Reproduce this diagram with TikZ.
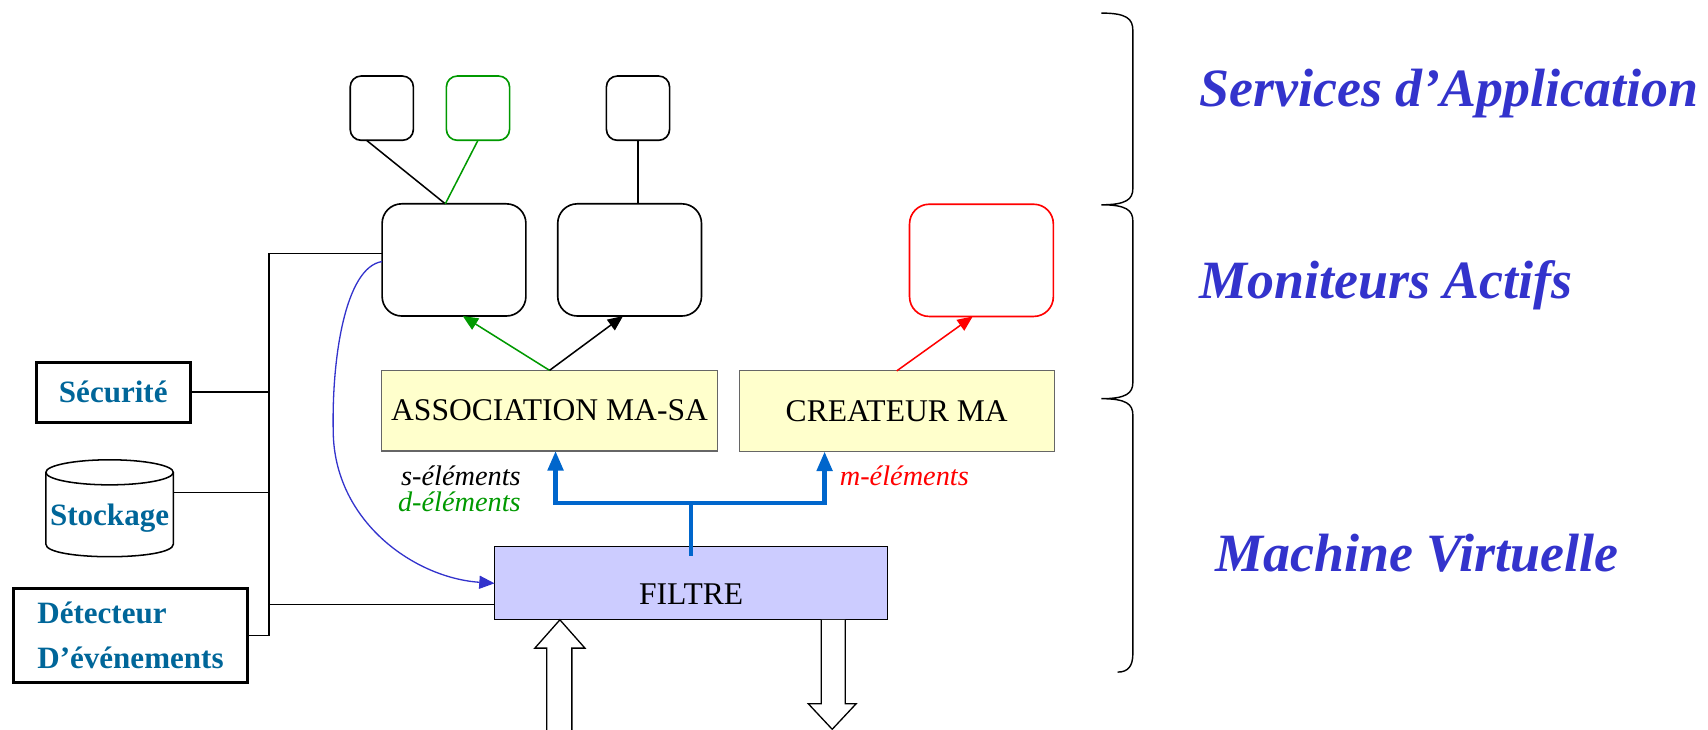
\documentclass[tikz,border=0pt]{standalone}
\usepackage{fontspec}
\setmainfont{Liberation Serif}
\usepackage{xcolor}
\usetikzlibrary{arrows.meta,positioning,calc}
\definecolor{titleblue}{RGB}{51,51,204}
\definecolor{labteal}{RGB}{0,102,153}
\definecolor{flowblue}{RGB}{0,102,204}
\definecolor{okgreen}{RGB}{0,153,0}
\definecolor{boxyellow}{RGB}{255,255,204}
\definecolor{filtreblue}{RGB}{204,204,255}

\begin{document}
\begin{tikzpicture}[x=1pt,y=-1pt,>={Triangle[length=14pt,width=12pt]},
  every node/.style={inner sep=0pt,outer sep=0pt},
  svc/.style={draw,line width=1.5pt,rounded corners=10pt,minimum width=58pt,minimum height=59pt},
  mon/.style={draw,line width=1.5pt,rounded corners=18pt,minimum width=132pt,minimum height=103pt},
  layer/.style={draw=black!60,line width=1pt,fill=boxyellow,minimum height=74pt,font=\fontsize{29}{34}\selectfont},
  tool/.style={draw,line width=2.8pt,font=\fontsize{28.5}{41.5}\selectfont\bfseries,text=labteal},
  side/.style={font=\fontsize{49.5}{56}\selectfont\bfseries\itshape,text=titleblue,anchor=base west},
  elem/.style={font=\fontsize{26}{30}\selectfont\itshape},
  link/.style={line width=1.4pt},
  flow/.style={line width=4pt,flowblue},
  hollow/.style={line width=1.2pt,fill=white}]
  \useasboundingbox (0,0) rectangle (1568,670);

  \node[svc] (sa1) at (350.5,99.3) {};
  \node[svc,draw=okgreen] (sa2) at (438.8,99.3) {};
  \node[svc] (sa3) at (585.7,99.3) {};
  \node[mon] (ma1) at (416.8,238.6) {};
  \node[mon] (ma2) at (578,238.6) {};
  \node[mon,draw=red] (ma3) at (901,239) {};
  \node[layer,minimum width=309pt] (assoc) at (504.5,377) {ASSOCIATION MA-SA};
  \node[layer,minimum width=289pt] (createur) at (823.2,377.5) {CREATEUR MA};
  \node[draw,line width=1pt,fill=filtreblue,minimum width=361pt,minimum height=67pt,
    text height=38pt,text depth=0pt,font=\fontsize{29}{34}\selectfont] (filtre) at (634.5,535.5) {FILTRE};

  \node[tool,minimum width=141pt,minimum height=55pt] (secu) at (104,360) {Sécurité};
  \node[minimum width=117pt,minimum height=89pt,text height=31pt,text depth=0pt,
    font=\fontsize{28.5}{34}\selectfont\bfseries,text=labteal] (stock) at (100.6,466.6) {Stockage};
  \node[tool,minimum width=214pt,minimum height=86pt,align=left] (detect) at (119.8,583.2) {Détecteur\\D’événements};
  \draw[link] ([yshift=-11.5pt]stock.north) ellipse [x radius=58.5,y radius=11.5];
  \draw[link] ([yshift=-11.5pt]stock.north west) -- ([yshift=11.5pt]stock.south west)
    .. controls +(0,15.3) and +(0,15.3) .. ([yshift=11.5pt]stock.south east) -- ([yshift=-11.5pt]stock.north east);

  \draw[link] ([xshift=-14pt]sa1.south) -- ([xshift=-8pt]ma1.north);
  \draw[link,okgreen] (sa2.south) -- ([xshift=-8pt]ma1.north);
  \draw[link] (sa3.south) -- (sa3.south |- ma2.north);
  \draw[link,okgreen,->] (assoc.north) -- ([xshift=8pt]ma1.south);
  \draw[link,->] (assoc.north) -- ([xshift=-6pt]ma2.south);
  \draw[link,red,->] (createur.north) -- ([xshift=-8pt]ma3.south);

  \coordinate (fork) at (634,462);
  \coordinate (fl) at (510,462);
  \coordinate (fr) at (757,462);
  \draw[flow] ([yshift=-8pt]filtre.north) -- (filtre.north |- fork);
  \draw[flow,{Triangle[length=18pt,width=14pt]}-{Triangle[length=18pt,width=14pt]}]
    (assoc.south -| fl) -- (fl) -- (fr) -- (createur.south -| fr);
  \node[elem,anchor=east] (selem) at (478,437) {s-éléments};
  \node[elem,anchor=east,text=okgreen] (delem) at (478,461) {d-éléments};
  \node[elem,anchor=west,text=red] (melem) at (771,437) {m-éléments};

  \coordinate (bus) at (247,0);
  \draw[link] ([yshift=6pt]ma1.west) -| (bus |- detect.east) -- (detect.east);
  \draw[link] (secu.east) -- (secu.east -| bus);
  \path ([yshift=14.6pt]stock.east) coordinate (stk);
  \draw[link] (stk) -- (stk -| bus);
  \path ([yshift=-19.3pt]filtre.west) coordinate (fin);
  \draw[link] (fin -| bus) -- (fin);
  \draw[line width=1.2pt,titleblue,->] ([yshift=-1.5pt]ma1.west) .. controls +(-34,5) and +(-2,-70) .. (306,400)
    .. controls +(3,80) and +(-73,-5) .. (filtre.west);

  \coordinate (up) at (514,0);
  \coordinate (dl) at (754,0);
  \coordinate (dr) at (776,0);
  \draw[hollow] (502,675) |- (491,595) -- (filtre.south -| up) -- (537,595) -| (525,675);
  \draw[hollow] (filtre.south -| dl) |- (742,646) -- (764,669.5) -- (786,646) -| (filtre.south -| dr);

  \draw[line width=1.3pt] (1011,12) .. controls (1034,12) and (1040,17) .. (1040,28) -- (1040,173)
    .. controls (1040,183) and (1034,188) .. (1011,188) .. controls (1034,188) and (1040,193) .. (1040,203)
    -- (1040,351) .. controls (1040,361) and (1034,366) .. (1011,366) .. controls (1034,366) and (1040,371) .. (1040,381)
    -- (1040,600) .. controls (1040,611) and (1036,617) .. (1026,617);
  \node[side] (sapp) at (1101,98) {Services d’Application};
  \node[side] (mact) at (1101,274) {Moniteurs Actifs};
  \node[side] (mvirt) at (1116,525) {Machine Virtuelle};
\end{tikzpicture}
\end{document}
